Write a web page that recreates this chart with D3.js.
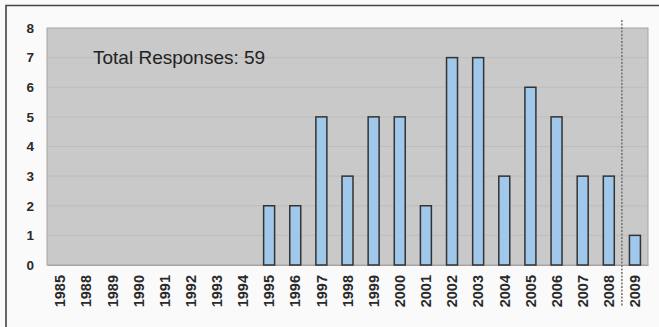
<!DOCTYPE html>
<html>
<head>
<meta charset="utf-8">
<script src="https://cdn.jsdelivr.net/npm/d3@7"></script>
<style>
  html, body { margin: 0; padding: 0; background: #fafafa; }
  svg { display: block; font-family: "Liberation Sans", Arial, sans-serif; }
</style>
</head>
<body>
<svg id="chart" width="659" height="327"></svg>
<script>
const years = ["1985","1988","1989","1990","1991","1992","1993","1994","1995","1996","1997","1998","1999","2000","2001","2002","2003","2004","2005","2006","2007","2008","2009"];
const responses = [0,0,0,0,0,0,0,0,2,2,5,3,5,5,2,7,7,3,6,5,3,3,1];
const yTicks = [0,1,2,3,4,5,6,7,8];
const annotation = "Total Responses: 59";
const dividerBetween = ["2008","2009"];

const svg = d3.select("#chart");
const W = 659, H = 327;
const m = { left: 47, right: 11, top: 28, bottom: 62 };

const x = d3.scaleBand().domain(years).range([m.left, W - m.right]).paddingInner(0.58).paddingOuter(0.29);
const xb = d3.scaleBand().domain(years).range([m.left, W - m.right]);
const y = d3.scaleLinear().domain([0, 8]).range([H - m.bottom, m.top]);

// outer frame (top + left)
svg.append("path")
  .attr("d", `M6,${H} L6,5.5 L${W},5.5`)
  .attr("fill", "none").attr("stroke", "#444").attr("stroke-width", 1.6);

// plot background
svg.append("rect")
  .attr("x", m.left).attr("y", m.top)
  .attr("width", W - m.right - m.left).attr("height", y(0) - m.top)
  .attr("fill", "#c9c9c9").attr("stroke", "#aaa2a2").attr("stroke-width", 1);

// gridlines
svg.append("g").selectAll("line").data(yTicks.slice(1, -1)).join("line")
  .attr("x1", m.left).attr("x2", W - m.right)
  .attr("y1", d => y(d)).attr("y2", d => y(d))
  .attr("stroke", "#bdbdbd").attr("stroke-width", 1);

// y axis
const yAxis = svg.append("g").attr("transform", `translate(${m.left},0)`)
  .call(d3.axisLeft(y).tickValues(yTicks).tickSize(0).tickPadding(13));
yAxis.select(".domain").remove();
yAxis.selectAll("text").attr("font-size", 13.5).attr("font-weight", "bold").attr("fill", "#2a2a2a")
  .attr("font-family", "Liberation Sans, Arial, sans-serif");

// x axis
const xAxis = svg.append("g").attr("transform", `translate(0,${y(0)})`)
  .call(d3.axisBottom(xb).tickSize(0).tickPadding(0));
xAxis.select(".domain").attr("stroke", "#aaa2a2");
xAxis.selectAll("text")
  .attr("font-size", 14.5).attr("font-weight", "bold").attr("fill", "#2a2a2a")
  .attr("font-family", "Liberation Sans, Arial, sans-serif")
  .attr("text-anchor", "end")
  .attr("transform", "rotate(-90)")
  .attr("x", -10).attr("y", 0).attr("dy", "0.36em");

// bars
svg.append("g").selectAll("rect").data(years.map((yr, i) => ({ yr, v: responses[i] })).filter(d => d.v > 0))
  .join("rect")
  .attr("x", d => x(d.yr)).attr("width", x.bandwidth())
  .attr("y", d => y(d.v)).attr("height", d => y(0) - y(d.v))
  .attr("fill", "#9fc8ea").attr("stroke", "#333").attr("stroke-width", 1.5);

// dotted divider
const dx = xb(dividerBetween[1]);
svg.append("line")
  .attr("x1", dx).attr("x2", dx).attr("y1", 20).attr("y2", 307)
  .attr("stroke", "#777").attr("stroke-width", 1.6).attr("stroke-dasharray", "2,1.5");

// annotation
svg.append("text")
  .attr("x", 93).attr("y", 64)
  .attr("font-size", 19).attr("fill", "#222")
  .text(annotation);
</script>
</body>
</html>
